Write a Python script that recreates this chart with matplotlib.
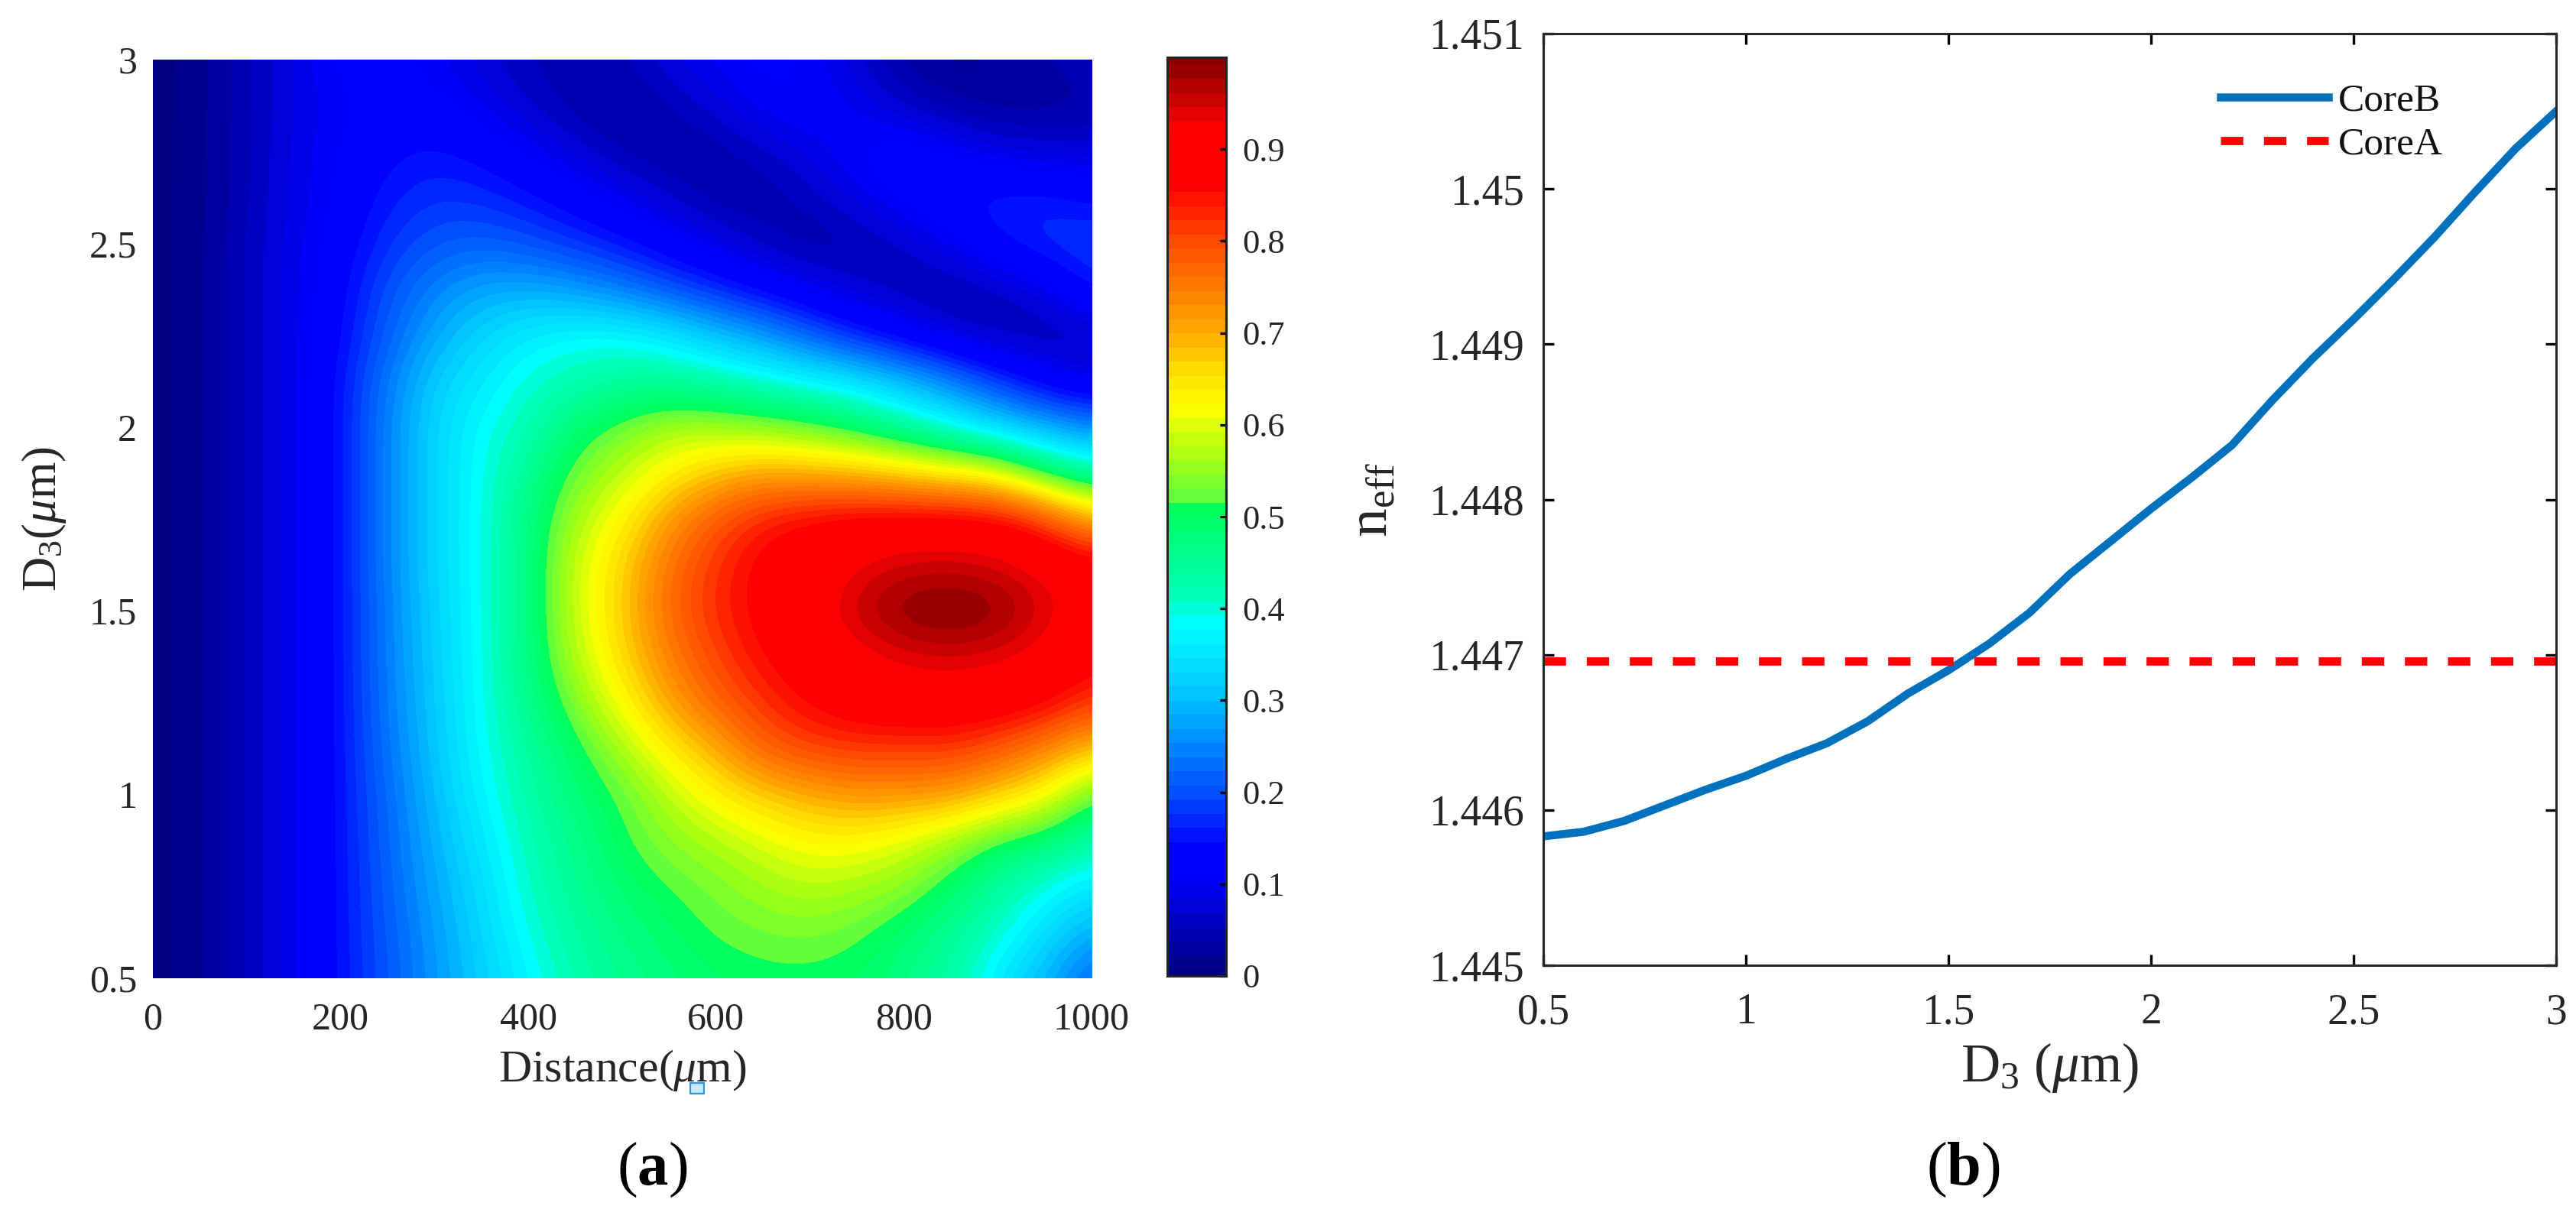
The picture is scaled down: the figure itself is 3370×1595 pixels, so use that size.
#!/usr/bin/env python3
# -*- coding: utf-8 -*-
"""
Coupling map (a) and effective index curves (b)
"""

import numpy as np
import matplotlib
matplotlib.use("Agg")
import matplotlib.pyplot as plt
from matplotlib.colors import BoundaryNorm, LinearSegmentedColormap, ListedColormap
from matplotlib.patches import Rectangle

plt.rcParams['font.family'] = 'Liberation Serif'
plt.rcParams['mathtext.fontset'] = 'custom'
plt.rcParams['mathtext.rm'] = 'Liberation Serif'
plt.rcParams['mathtext.it'] = 'Liberation Serif:italic'
plt.rcParams['mathtext.bf'] = 'Liberation Serif:bold'

# Panel (a)
distance = [0, 50, 100, 150, 200, 250, 300, 350, 400, 450, 500, 550, 600, 650, 700, 750, 800, 850, 900, 950, 1000]
d3_grid = [0.5, 0.625, 0.75, 0.875, 1.0, 1.125, 1.25, 1.375, 1.5, 1.625, 1.75, 1.875,
           2.0, 2.125, 2.25, 2.375, 2.5, 2.625, 2.75, 2.875, 3.0]
p_0500 = [0, .018, .055, .095, .150, .205, .265, .320, .375, .425, .455, .480, .495, .505, .505, .500, .470, .435, .360, .290, .215]
p_0625 = [0, .018, .055, .095, .150, .210, .270, .330, .395, .440, .470, .495, .520, .530, .535, .520, .490, .450, .405, .345, .280]
p_0750 = [0, .018, .055, .095, .150, .215, .280, .340, .410, .450, .490, .515, .535, .560, .575, .565, .545, .495, .440, .390, .355]
p_0875 = [0, .018, .055, .095, .150, .220, .290, .355, .420, .460, .510, .545, .570, .600, .625, .625, .600, .560, .505, .485, .430]
p_1000 = [0, .018, .055, .095, .150, .225, .300, .375, .430, .480, .520, .575, .635, .670, .700, .720, .720, .715, .670, .625, .515]
p_1125 = [0, .018, .055, .095, .150, .235, .310, .385, .440, .500, .565, .640, .700, .780, .810, .820, .815, .820, .790, .740, .680]
p_1250 = [0, .018, .055, .095, .150, .240, .315, .390, .455, .540, .620, .710, .775, .825, .860, .885, .900, .900, .890, .870, .815]
p_1375 = [0, .018, .055, .095, .150, .245, .320, .390, .470, .575, .660, .745, .810, .855, .890, .915, .935, .945, .935, .915, .870]
p_1500 = [0, .018, .055, .095, .150, .245, .325, .390, .470, .590, .670, .770, .830, .870, .905, .960, 1.00, 1.01, .995, .945, .905]
p_1625 = [0, .018, .055, .095, .150, .250, .330, .390, .470, .590, .665, .760, .825, .870, .895, .930, .950, .955, .945, .920, .895]
p_1750 = [0, .018, .055, .095, .150, .250, .330, .390, .470, .565, .630, .720, .790, .840, .865, .880, .885, .885, .875, .820, .700]
p_1875 = [0, .018, .055, .095, .150, .250, .330, .390, .450, .530, .580, .635, .680, .710, .700, .690, .665, .640, .610, .500, .430]
p_2000 = [0, .018, .055, .095, .150, .250, .330, .385, .420, .490, .530, .565, .560, .545, .525, .490, .440, .385, .330, .285, .250]
p_2125 = [0, .018, .055, .095, .150, .240, .320, .360, .400, .420, .440, .445, .430, .405, .380, .350, .300, .245, .180, .120, .085]
p_2250 = [0, .018, .055, .095, .140, .215, .280, .330, .365, .385, .385, .360, .310, .270, .210, .160, .120, .075, .050, .045, .050]
p_2375 = [0, .018, .055, .095, .135, .200, .250, .280, .285, .270, .240, .200, .165, .130, .100, .070, .050, .040, .060, .090, .160]
p_2500 = [0, .018, .055, .095, .125, .175, .205, .215, .200, .175, .150, .120, .090, .060, .035, .045, .065, .105, .145, .175, .185]
p_2625 = [0, .016, .050, .090, .120, .155, .177, .170, .150, .125, .100, .070, .040, .035, .060, .090, .125, .150, .160, .160, .140]
p_2750 = [0, .016, .050, .090, .115, .140, .150, .135, .110, .080, .050, .030, .040, .065, .090, .120, .140, .115, .090, .080, .075]
p_2875 = [0, .015, .050, .085, .110, .125, .125, .100, .070, .040, .025, .050, .080, .110, .120, .100, .065, .040, .025, .025, .035]
p_3000 = [0, .015, .050, .085, .125, .125, .105, .075, .050, .045, .050, .085, .105, .125, .110, .070, .030, .015, .025, .040, .050]

cbar_ticks = [0, 0.1, 0.2, 0.3, 0.4, 0.5, 0.6, 0.7, 0.8, 0.9]

# Panel (b)
d3_curve = [0.5, 0.6, 0.7, 0.8, 0.9, 1.0, 1.1, 1.2, 1.3, 1.4, 1.5, 1.6, 1.7,
            1.8, 1.9, 2.0, 2.1, 2.2, 2.3, 2.4, 2.5, 2.6, 2.7, 2.8, 2.9, 3.0]
neff_coreB = [1.44583, 1.44586, 1.44593, 1.44603, 1.44613, 1.44622, 1.44633,
              1.44643, 1.44657, 1.44675, 1.44690, 1.44707, 1.44727, 1.44752,
              1.44773, 1.44794, 1.44814, 1.44835, 1.44864, 1.44891, 1.44916,
              1.44942, 1.44969, 1.44998, 1.45026, 1.45050]
neff_coreA = [1.44696, 1.44696]
d3_coreA = [0.5, 3.0]

W, H = 3370.0, 1595.0
TXT = '#262626'

# colorbar colours of the original, they are not plain jet
cmap_stops = [(0.0, (0, 0, 125)), (0.11, (0, 0, 255)), (0.14, (0, 0, 255)), (0.2, (0, 80, 255)),
              (0.3, (0, 190, 255)), (0.385, (0, 255, 255)), (0.41, (0, 255, 190)), (0.51, (0, 255, 90)),
              (0.513, (85, 255, 70)), (0.56, (160, 255, 20)), (0.62, (255, 255, 0)), (0.66, (255, 220, 0)),
              (0.7, (255, 170, 0)), (0.8, (255, 75, 0)), (0.86, (255, 0, 0)), (0.92, (255, 0, 0)),
              (1.0, (130, 0, 0))]


def axes_px(x0, y0, x1, y1):
    return [x0 / W, 1 - y1 / H, (x1 - x0) / W, (y1 - y0) / H]


fig = plt.figure(figsize=(W / 200, H / 200), dpi=200)

# ---- panel a
z = np.array([p_0500, p_0625, p_0750, p_0875, p_1000, p_1125, p_1250, p_1375, p_1500, p_1625, p_1750,
              p_1875, p_2000, p_2125, p_2250, p_2375, p_2500, p_2625, p_2750, p_2875, p_3000])
base = LinearSegmentedColormap.from_list('ref', [(v, tuple(c / 255 for c in rgb)) for v, rgb in cmap_stops], N=2048)
levels = np.clip(0.515 + (np.arange(67) - 34) * 0.01538, 0, 1)
levels = np.unique(np.append(levels, 1.0))
centers = (levels[:-1] + levels[1:]) / 2
cmap = ListedColormap(base(centers))
norm = BoundaryNorm(levels, cmap.N, clip=True)

ax = fig.add_axes(axes_px(200, 78, 1428, 1280))
dx = (distance[1] - distance[0]) / 2
dy = (d3_grid[1] - d3_grid[0]) / 2
ax.imshow(z, origin='lower', aspect='auto', cmap=cmap, norm=norm, interpolation='bicubic',
          interpolation_stage='data',
          extent=[distance[0] - dx, distance[-1] + dx, d3_grid[0] - dy, d3_grid[-1] + dy])
ax.set_xlim(0, 1000)
ax.set_ylim(0.5, 3)
for s in ax.spines.values():
    s.set_visible(False)
ax.tick_params(length=0, labelsize=18, labelcolor=TXT)
ax.tick_params(axis='x', pad=11)
ax.tick_params(axis='y', pad=7.5)
ax.set_xticks([0, 200, 400, 600, 800, 1000])
ax.set_yticks([0.5, 1, 1.5, 2, 2.5, 3])
ax.set_yticklabels(['0.5', '1', '1.5', '2', '2.5', '3'])
ax.set_xlabel(r'Distance($\mu$m)', fontsize=21.5, color=TXT, labelpad=5)
ax.set_ylabel(r'D$_3$($\mu$m)', fontsize=22.5, color=TXT, labelpad=10)

cax = fig.add_axes(axes_px(1526.5, 75, 1604, 1277))
cax.pcolormesh([0, 1], levels, centers[:, None], cmap=cmap, norm=norm)
cax.set_xticks([])
cax.yaxis.tick_right()
cax.set_ylim(0, 1)
cax.set_yticks(cbar_ticks)
cax.set_yticklabels(['0', '0.1', '0.2', '0.3', '0.4', '0.5', '0.6', '0.7', '0.8', '0.9'])
cax.tick_params(axis='y', direction='in', length=3, width=1.2, labelsize=16, labelcolor=TXT, pad=7.5)
for s in cax.spines.values():
    s.set_linewidth(1.1)
    s.set_color('#222222')

# stray selection handle that sits on the x label in the original
fig.add_artist(Rectangle((903 / W, 1 - 1431 / H), 18 / W, 14 / H, transform=fig.transFigure,
                         facecolor='#C5ECFF', edgecolor='#2E9AD0', lw=0.8))
# ---- panel b
bx = fig.add_axes(axes_px(2019, 44, 3344, 1263))
bx.plot(d3_curve, neff_coreB, color='#0072BD', lw=3.8, label='CoreB')
bx.plot(d3_coreA, neff_coreA, color='#FF0000', lw=3.9, ls=(0, (2.7, 2.5)), label='CoreA')
bx.set_xlim(0.5, 3)
bx.set_ylim(1.445, 1.451)
bx.set_xticks([0.5, 1, 1.5, 2, 2.5, 3])
bx.set_xticklabels(['0.5', '1', '1.5', '2', '2.5', '3'])
bx.set_yticks([1.445, 1.446, 1.447, 1.448, 1.449, 1.45, 1.451])
bx.set_yticklabels(['1.445', '1.446', '1.447', '1.448', '1.449', '1.45', '1.451'])
bx.tick_params(direction='in', top=True, right=True, length=5.2, width=1.2, labelsize=20, labelcolor=TXT)
bx.tick_params(axis='x', pad=13)
bx.tick_params(axis='y', pad=9)
for s in bx.spines.values():
    s.set_linewidth(1.1)
    s.set_color('#262626')
bx.set_xlabel(r'D$_3$ ($\mu$m)', fontsize=25.5, color=TXT, labelpad=4)
bx.set_ylabel(r'n$_{\mathrm{eff}}$', fontsize=27, color=TXT, labelpad=14)
bx.legend(loc='upper left', frameon=False, fontsize=18.5, handlelength=2.75, handletextpad=0.25,
          labelspacing=0.2, bbox_to_anchor=(0.6687, 0.947), borderaxespad=0, borderpad=0, labelcolor='#111111')

fig.text(853 / W, 1 - 1531 / H, r'($\mathbf{a}$)', fontsize=29, ha='center', va='center', color='k')
fig.text(2568 / W, 1 - 1531 / H, r'($\mathbf{b}$)', fontsize=29, ha='center', va='center', color='k')

fig.savefig('out.png', dpi=200)
